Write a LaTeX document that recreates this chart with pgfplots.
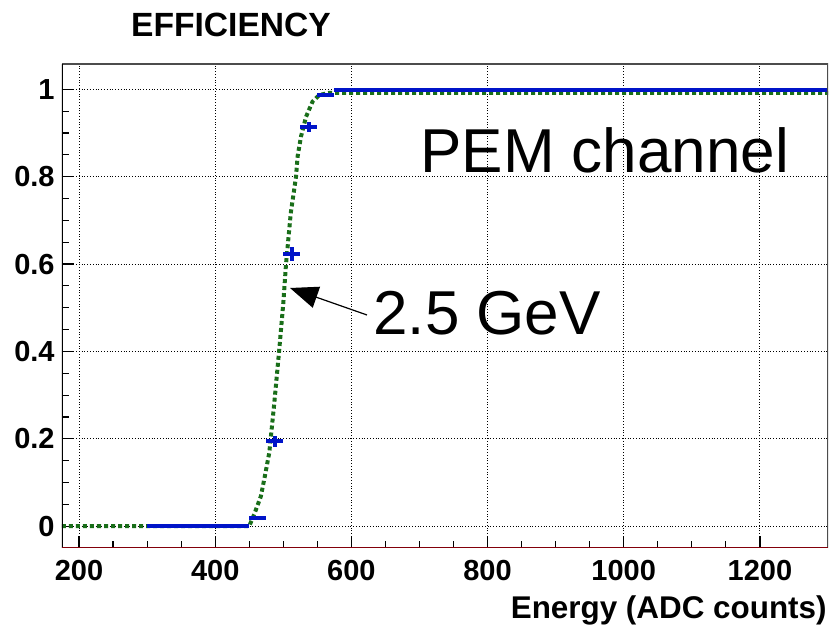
\documentclass[border=0pt]{standalone}
\usepackage{pgfplots}
\pgfplotsset{compat=1.18}
\usepackage{fontspec}
\setmainfont{Liberation Sans}
\usetikzlibrary{arrows.meta}
\definecolor{rootblue}{RGB}{0,20,200}
\definecolor{fitgreen}{RGB}{25,110,25}
\definecolor{axred}{RGB}{130,0,10}
\begin{document}
\begin{tikzpicture}
\useasboundingbox (0,0) rectangle (415pt,320pt);
\begin{axis}[
  at={(31pt,46pt)}, anchor=south west,
  scale only axis, width=383pt, height=242pt,
  xmin=175, xmax=1300, ymin=-0.05, ymax=1.058,
  xtick={200,400,600,800,1000,1200},
  xticklabels={200,400,600,800,1000,1200},
  ytick={0,0.2,0.4,0.6,0.8,1},
  yticklabels={0,0.2,0.4,0.6,0.8,1},
  minor x tick num=3, minor y tick num=3,
  xtick pos=bottom, ytick pos=left,
  tick align=inside,
  major tick length=6pt, minor tick length=3.5pt,
  tick style={black, line width=0.6pt},
  grid=major,
  major grid style={black, densely dotted, line width=0.5pt},
  axis line style={draw=none},
  ticklabel style={font=\bfseries\fontsize{14.5}{16}\selectfont, inner sep=0pt},
  xticklabel style={yshift=-6pt},
  yticklabel style={xshift=-3.5pt},
  clip=true,
]
% fit curve
\addplot[fitgreen, line width=2pt, dash pattern=on 2pt off 1.5pt] coordinates {
(175,0)(450,0)(458,0.03)(467,0.068)(473,0.115)(479.4,0.168)(486.8,0.282)(494,0.403)(500,0.51)(504,0.6)(511,0.717)(518.7,0.8)(521,0.846)(526,0.892)(533.4,0.937)(543,0.972)(553,0.987)(567.6,0.992)(600,0.992)(800,0.992)(1000,0.992)(1300,0.992)};
% data histogram with errors
\addplot[draw=none, mark=none,
  error bars/.cd, x dir=both, x explicit, y dir=both, y explicit,
  error mark=none,
  error bar style={draw=rootblue, line width=2pt}] coordinates {
(312.5,0) +- (12.5,0)
(337.5,0) +- (12.5,0)
(362.5,0) +- (12.5,0)
(387.5,0) +- (12.5,0)
(412.5,0) +- (12.5,0)
(437.5,0) +- (12.5,0)
(462.5,0.018) +- (12.5,0.004)
(487.5,0.194) +- (12.5,0.012)
(512.5,0.623) +- (12.5,0.016)
(537.5,0.914) +- (12.5,0.012)
(562.5,0.987) +- (12.5,0.005)
(587.5,0.998) +- (12.5,0.003)
(612.5,0.998) +- (12.5,0.003)
(637.5,0.998) +- (12.5,0.003)
(662.5,0.998) +- (12.5,0.003)
(687.5,0.998) +- (12.5,0.003)
(712.5,0.998) +- (12.5,0.003)
(737.5,0.998) +- (12.5,0.003)
(762.5,0.998) +- (12.5,0.003)
(787.5,0.998) +- (12.5,0.003)
(812.5,0.998) +- (12.5,0.003)
(837.5,0.998) +- (12.5,0.003)
(862.5,0.998) +- (12.5,0.003)
(887.5,0.998) +- (12.5,0.003)
(912.5,0.998) +- (12.5,0.003)
(937.5,0.998) +- (12.5,0.003)
(962.5,0.998) +- (12.5,0.003)
(987.5,0.998) +- (12.5,0.003)
(1012.5,0.998) +- (12.5,0.003)
(1037.5,0.998) +- (12.5,0.003)
(1062.5,0.998) +- (12.5,0.003)
(1087.5,0.998) +- (12.5,0.003)
(1112.5,0.998) +- (12.5,0.003)
(1137.5,0.998) +- (12.5,0.003)
(1162.5,0.998) +- (12.5,0.003)
(1187.5,0.998) +- (12.5,0.003)
(1212.5,0.998) +- (12.5,0.003)
(1237.5,0.998) +- (12.5,0.003)
(1262.5,0.998) +- (12.5,0.003)
(1287.5,0.998) +- (12.5,0.003)
};
% frame
\draw[gray!60!black, line width=1pt] (rel axis cs:0,1) -- (rel axis cs:1,1) -- (rel axis cs:1,0);
\draw[black, line width=0.8pt] (rel axis cs:0,0) -- (rel axis cs:0,1);
\draw[axred, line width=1.2pt] (rel axis cs:0,0) -- (rel axis cs:1,0);
\end{axis}
% texts
\node[anchor=center, font=\bfseries\fontsize{16.8}{18}\selectfont, inner sep=0pt] at (115.5pt,307.5pt) {EFFICIENCY};
\node[anchor=base east, font=\bfseries\fontsize{15.7}{17}\selectfont, inner sep=0pt] at (413.5pt,10.5pt) {Energy (ADC counts)};
\node[anchor=base west, font=\fontsize{31}{34}\selectfont, inner sep=0pt] at (210pt,233.5pt) {PEM channel};
\node[anchor=base west, font=\fontsize{31}{34}\selectfont, inner sep=0pt] at (186.5pt,152.5pt) {2.5 GeV};
\draw[black, line width=0.6pt, -{Triangle[length=14pt,width=11pt]}] (183.5pt,162.5pt) -- (145pt,176pt);
\end{tikzpicture}
\end{document}
